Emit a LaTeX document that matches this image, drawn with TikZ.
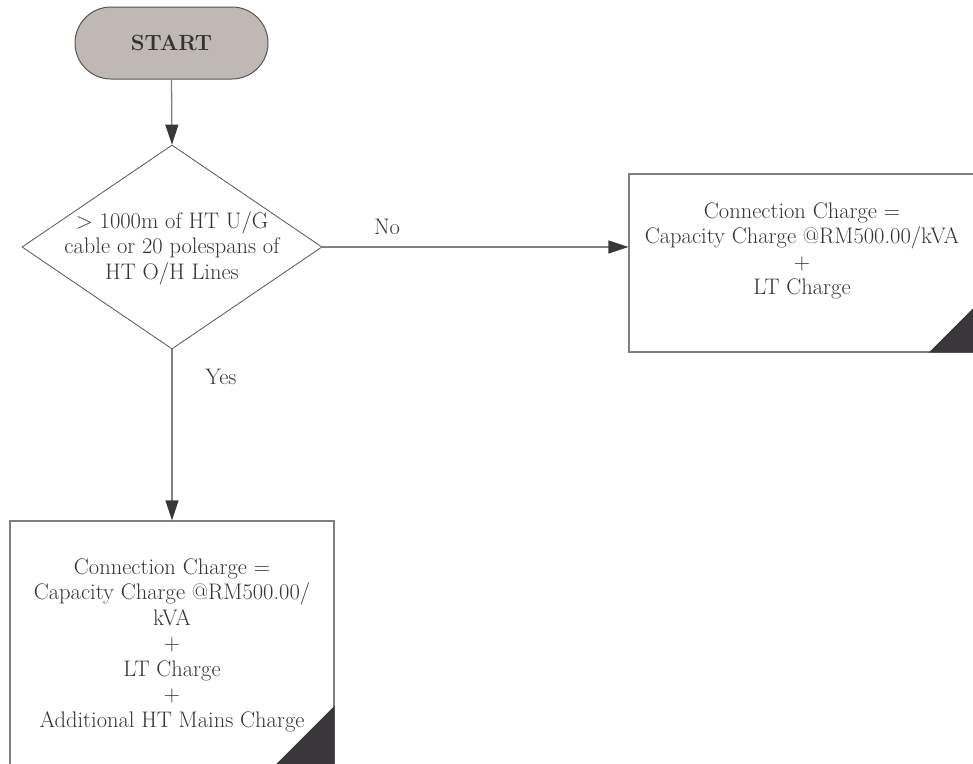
\documentclass[tikz,border=0pt]{standalone}
\usepackage{fontspec}
\usetikzlibrary{arrows.meta,shapes.geometric}
\definecolor{startfill}{HTML}{C0B8B5}
\definecolor{startdraw}{HTML}{555555}
\definecolor{linegray}{HTML}{808080}
\definecolor{tipdark}{HTML}{3A373A}
\definecolor{txt}{HTML}{333333}
\tikzset{
  x=1pt, y=-1pt,
  txtstyle/.style={align=center, text=txt, font=\fontsize{22.5}{25.5}\selectfont, inner sep=0pt},
  startbox/.style={draw=startdraw, fill=startfill, line width=1pt, rounded corners=36pt,
     minimum width=193pt, minimum height=72pt, inner sep=0pt, text=txt,
     font=\fontsize{22}{24}\selectfont\bfseries},
  decision/.style={draw=startdraw, diamond, line width=0.8pt, minimum width=300pt, minimum height=204pt, inner sep=0pt},
  procbox/.style={draw=linegray, line width=1.3pt, rectangle, inner sep=0pt},
  conn/.style={draw=linegray, line width=1.3pt, -{Triangle[length=20pt,width=13pt,color=tipdark]}},
  corner/.style={fill=tipdark, draw=none}
}
\begin{document}
\begin{tikzpicture}
\useasboundingbox (0,0) rectangle (973,763);
\clip (0,0) rectangle (973,763);
% start
\node[startbox] (start) at (171.5,43) {START};
% decision
\node[decision] (dec) at (172,247) {};
\node[txtstyle] (dectext) at (172,248) {> 1000m of HT U/G\\cable or 20 polespans of\\HT O/H Lines};
% right box
\node[procbox, minimum width=346pt, minimum height=178pt] (rbox) at (802,263) {};
\node[txtstyle] (rtext) at (802,251) {Connection Charge =\\Capacity Charge @RM500.00/kVA\\+\\LT Charge};
\fill[corner] (rbox.south east) -- ++(-47,0) -- ++(47,-47) -- cycle;
% bottom box
\node[procbox, minimum width=324pt, minimum height=254pt] (bbox) at (172,648) {};
\node[txtstyle] (btext) at (172,645) {Connection Charge =\\Capacity Charge @RM500.00/\\kVA\\+\\LT Charge\\+\\Additional HT Mains Charge};
\fill[corner] (bbox.south east) -- ++(-70,0) -- ++(70,-70) -- cycle;
% connectors
\draw[conn] (start.south) -- (dec.north);
\draw[conn] (dec.east) -- (rbox.west |- dec.east);
\draw[conn] (dec.south) -- (bbox.north);
% labels
\node[txtstyle] (nolab) at (387,227) {No};
\node[txtstyle] (yeslab) at (221,377) {Yes};
\end{tikzpicture}
\end{document}
